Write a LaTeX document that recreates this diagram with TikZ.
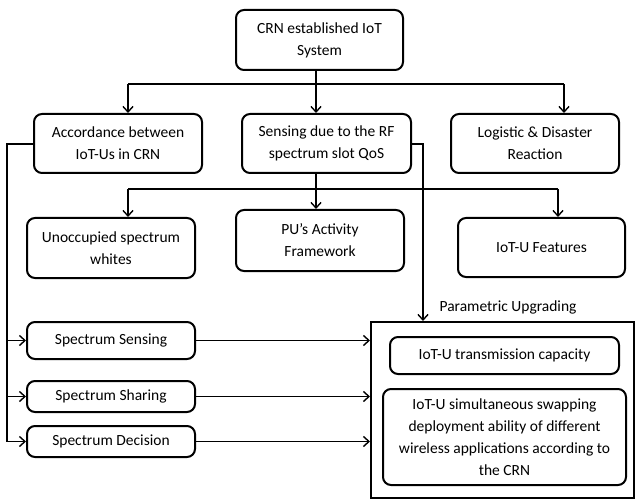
\documentclass[tikz,border=0pt]{standalone}
\usepackage{fontspec}
\setmainfont{Carlito}
\usetikzlibrary{arrows.meta}
\begin{document}
\begin{tikzpicture}[x=1pt,y=-1pt,
  box/.style={draw, line width=2pt, rounded corners=8pt, align=center, inner sep=2pt,
    font=\fontsize{15.5}{22}\selectfont},
  conn/.style={line width=1.4pt},
  arr/.style={conn, -{Straight Barb[length=5.5pt,width=10pt,line width=1.4pt]}}]
\useasboundingbox (0,0) rectangle (635,500);
% nodes
\node[box, minimum width=167pt, minimum height=60pt] (top) at (319.5,40) {CRN established IoT\\System};
\node[box, minimum width=168pt, minimum height=59pt] (acc) at (118,143.5) {Accordance between\\IoT-Us in CRN};
\node[box, minimum width=169pt, minimum height=59pt] (sens) at (326.5,143.5) {Sensing due to the RF\\spectrum slot QoS};
\node[box, minimum width=168pt, minimum height=59pt] (logi) at (535,143.5) {Logistic \& Disaster\\Reaction};
\node[box, minimum width=168pt, minimum height=60pt] (unocc) at (111,248) {Unoccupied spectrum\\whites};
\node[box, minimum width=168pt, minimum height=61pt] (pu) at (320,240.5) {PU’s Activity\\Framework};
\node[box, minimum width=167pt, minimum height=59pt] (feat) at (541.5,247.5) {IoT-U Features};
\node[box, minimum width=168pt, minimum height=37pt] (ssens) at (111,340.5) {Spectrum Sensing};
\node[box, minimum width=168pt, minimum height=31pt] (sshar) at (111,396.5) {Spectrum Sharing};
\node[box, minimum width=168pt, minimum height=31pt] (sdec) at (111,441.5) {Spectrum Decision};
\node[draw, line width=2pt, minimum width=263pt, minimum height=176pt, inner sep=0pt] (big) at (502.5,410) {};
\node[box, minimum width=229pt, minimum height=37pt] (trans) at (504.5,355.5) {IoT-U transmission capacity};
\node[box, minimum width=243pt, minimum height=96pt] (swap) at (504.5,437) {IoT-U simultaneous swapping\\deployment ability of different\\wireless applications according to\\the CRN};
\node[font=\fontsize{15.5}{22}\selectfont] (param) at (508,307) {Parametric Upgrading};
% junction coordinates
\coordinate (j1) at (316,84);
\coordinate (a1) at (128,84);
\coordinate (a2) at (564,84);
\coordinate (j2) at (316,189);
\coordinate (b1) at (128,189);
\coordinate (b2) at (558,189);
\coordinate (l1) at (7,144);
\coordinate (l2) at (7,441.5);
\coordinate (r1) at (423,144);
% level 1
\draw[conn] (top.south -| j1) -- (j1);
\draw[conn] (a1) -- (a2);
\draw[arr] (a1) -- (a1 |- acc.north);
\draw[arr] (j1) -- (j1 |- sens.north);
\draw[arr] (a2) -- (a2 |- logi.north);
% level 2
\draw[conn] (sens.south -| j2) -- (j2);
\draw[conn] (b1) -- (b2);
\draw[arr] (b1) -- (b1 |- unocc.north);
\draw[arr] (j2) -- (j2 |- pu.north);
\draw[arr] (b2) -- (b2 |- feat.north);
% left bus
\draw[conn] (acc.west |- l1) -- (l1) -- (l2);
\draw[arr] (l1 |- ssens.west) -- (ssens.west);
\draw[arr] (l1 |- sshar.west) -- (sshar.west);
\draw[arr] (l1 |- sdec.west) -- (sdec.west);
% right line
\draw[arr] (sens.east |- r1) -- (r1) -- (r1 |- big.north);
% to big box
\draw[arr] (ssens.east) -- (ssens.east -| big.west);
\draw[arr] (sshar.east) -- (sshar.east -| big.west);
\draw[arr] (sdec.east) -- (sdec.east -| big.west);
\end{tikzpicture}
\end{document}
